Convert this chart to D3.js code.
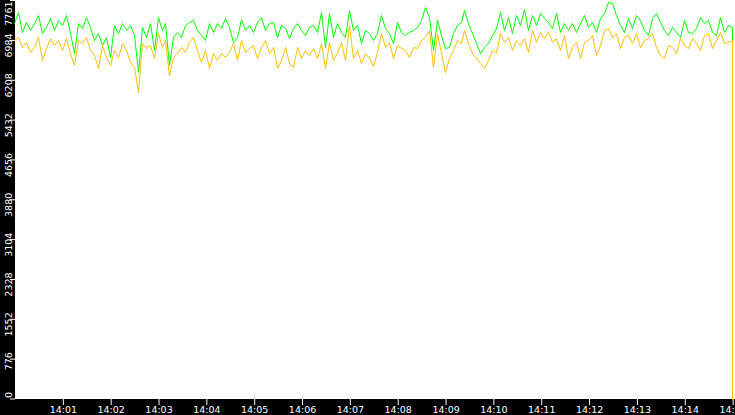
<!DOCTYPE html>
<html>
<head>
<meta charset="utf-8">
<script src="https://cdn.jsdelivr.net/npm/d3@7"></script>
<style>
  html, body { margin: 0; padding: 0; background: #000; overflow: hidden; }
  svg { display: block; }
  text { font-family: "DejaVu Sans", sans-serif; fill: #fff; }
</style>
</head>
<body>
<div id="container"></div>
<script>
// one sample every 5 seconds from 14:00:00, the last (drop) sample half a second after the one before
const startLabel = "14:00";
const stepSeconds = 5;
const lastGapSeconds = 0.5;

const greenValues = [
  7314, 7528, 7139, 7333, 7177, 7314, 7469, 7119, 7236, 7411, 7177, 7372, 7275, 7469, 7119,
  6730, 7314, 7216, 7430, 7236, 6983, 7119, 6886, 7041, 6652, 7275, 7119, 7314, 7177, 7275,
  7080, 6361, 7236, 7041, 7314, 6788, 7430, 7177, 7314, 6497, 7041, 7139, 7041, 7275, 7333,
  7372, 7177, 7080, 6983, 7314, 7139, 7314, 7216, 7411, 7236, 6944, 7041, 7391, 7177, 7275,
  7139, 7333, 7430, 7177, 7314, 7333, 7041, 7275, 7216, 7022, 7216, 7314, 7177, 7080, 7236,
  7275, 7139, 7528, 6847, 7508, 7041, 7314, 7139, 7041, 7566, 7177, 7275, 6925, 7177, 7119,
  6983, 7119, 7469, 7216, 7119, 6925, 7333, 7139, 7080, 7139, 7177, 7236, 7372, 7625, 7430,
  6788, 7372, 7080, 6827, 6847, 7119, 7275, 7333, 7566, 7314, 7119, 6925, 6730, 6847, 6925,
  7080, 7216, 7528, 7177, 7430, 7119, 7469, 7275, 7586, 7177, 7469, 7275, 7508, 7411, 7333,
  7216, 7508, 7139, 7314, 7177, 7314, 7139, 7314, 7469, 7236, 7333, 7139, 7411, 7508, 7722,
  7703, 7469, 7275, 7139, 7411, 7216, 7469, 7372, 7177, 7080, 7411, 7508, 7333, 7177, 7080,
  7236, 7139, 7041, 7372, 7139, 7119, 7216, 7430, 7314, 7372, 7139, 7080, 7430, 7139, 7275,
  7236, 3480
];

const orangeValues = [
  6983, 7041, 6847, 6944, 6750, 6847, 7041, 6594, 6827, 7022, 6886, 6983, 6788, 7022, 6730,
  6497, 6983, 6925, 7041, 6788, 6691, 6438, 6886, 6652, 6497, 6788, 6652, 6925, 6788, 6555,
  6458, 5972, 6925, 6827, 6886, 6633, 7119, 6847, 6983, 6302, 6652, 6730, 6847, 6750, 6944,
  7041, 6788, 6555, 6788, 6438, 6730, 6594, 6730, 6652, 6750, 6925, 6594, 6983, 6750, 6827,
  6886, 6633, 6847, 6983, 6730, 6847, 6438, 6594, 6847, 6536, 6458, 6847, 6633, 6788, 6691,
  6827, 6633, 6925, 6438, 6944, 6594, 6730, 6944, 6594, 7275, 6633, 6788, 6536, 6730, 6633,
  6477, 6750, 7119, 6847, 6944, 6633, 6886, 6827, 6788, 6652, 6847, 6827, 6983, 7041, 7177,
  6458, 7119, 6730, 6361, 6633, 6788, 6983, 6925, 7177, 6925, 6730, 6633, 6536, 6438, 6594,
  6788, 6730, 7119, 6944, 7041, 6788, 6983, 6886, 7022, 6750, 7177, 6944, 7139, 7022, 7139,
  6944, 7022, 6788, 7080, 6633, 6847, 6944, 6633, 6944, 6983, 7080, 6691, 6886, 7177, 7216,
  7041, 7119, 6827, 7041, 7080, 6925, 7119, 6847, 6983, 7022, 7119, 6847, 6691, 6633, 6886,
  6847, 6730, 7022, 6886, 6827, 7022, 6925, 6788, 7080, 7119, 6827, 6983, 7139, 6925, 6944,
  6983, 0
];

const yTickValues = [0, 776, 1552, 2328, 3104, 3880, 4656, 5432, 6208, 6984, 7761];
const xTickLabels = ["14:01", "14:02", "14:03", "14:04", "14:05", "14:06", "14:07", "14:08",
  "14:09", "14:10", "14:11", "14:12", "14:13", "14:14", "14:15"];

const width = 735, height = 415;
const margin = { top: 0, right: 0, bottom: 16, left: 15 };

const parseTime = d3.timeParse("%H:%M");
const start = parseTime(startLabel);
const toSeries = (values) =>
  values.map((v, i) => {
    let secs = i * stepSeconds;
    if (i === values.length - 1) secs = (i - 1) * stepSeconds + lastGapSeconds;
    return { date: new Date(start.getTime() + secs * 1000), value: v };
  });
const green = toSeries(greenValues);
const orange = toSeries(orangeValues);

const svg = d3.select("#container")
  .append("svg")
  .attr("width", width)
  .attr("height", height)
  .style("background", "#000");

svg.append("rect")
  .attr("x", margin.left)
  .attr("y", margin.top)
  .attr("width", width - margin.left - margin.right)
  .attr("height", height - margin.top - margin.bottom)
  .attr("fill", "#fff");

const xScale = d3.scaleTime()
  .domain([start, new Date(start.getTime() + 903 * 1000)])
  .range([margin.left, width - margin.right]);

const yScale = d3.scaleLinear()
  .domain([0, 7761])
  .range([height - margin.bottom - 0.5, margin.top]);

// y axis, labels turned on their side
const yAxis = svg.append("g")
  .attr("transform", `translate(${margin.left},0)`)
  .call(d3.axisLeft(yScale).tickValues(yTickValues).tickSize(5).tickFormat(d3.format("d")));
yAxis.select(".domain").remove();
yAxis.selectAll("line").attr("stroke", "#fff");
yAxis.selectAll("text")
  .style("font-size", "9.5px")
  .attr("transform", "rotate(-90)")
  .attr("x", (d) => Math.min(7, yScale(d) - 1))
  .attr("y", -3)
  .attr("dy", 0)
  .attr("text-anchor", "end")
  .attr("fill", "#fff");

// x axis
const xAxis = svg.append("g")
  .attr("transform", `translate(0,${height - margin.bottom})`)
  .call(d3.axisBottom(xScale)
    .tickValues(xTickLabels.map(parseTime))
    .tickSize(6)
    .tickFormat(d3.timeFormat("%H:%M")));
xAxis.select(".domain").remove();
xAxis.selectAll("line").attr("stroke", "#fff");
xAxis.selectAll("text")
  .style("font-size", "9.5px")
  .attr("y", 7)
  .attr("fill", "#fff");

// snap to pixel centres so the 1px traces stay sharp
const line = d3.line()
  .x((d) => Math.round(xScale(d.date)) - 0.5)
  .y((d) => Math.round(yScale(d.value)) + 0.5);

svg.append("path")
  .datum(green)
  .attr("fill", "none")
  .attr("stroke", "#00ff00")
  .attr("stroke-width", 1)
  .attr("d", line);

svg.append("path")
  .datum(orange)
  .attr("fill", "none")
  .attr("stroke", "#ffbf00")
  .attr("stroke-width", 1)
  .attr("d", line);

svg.selectAll("text").style("font-family", "'DejaVu Sans', sans-serif");
</script>
</body>
</html>
